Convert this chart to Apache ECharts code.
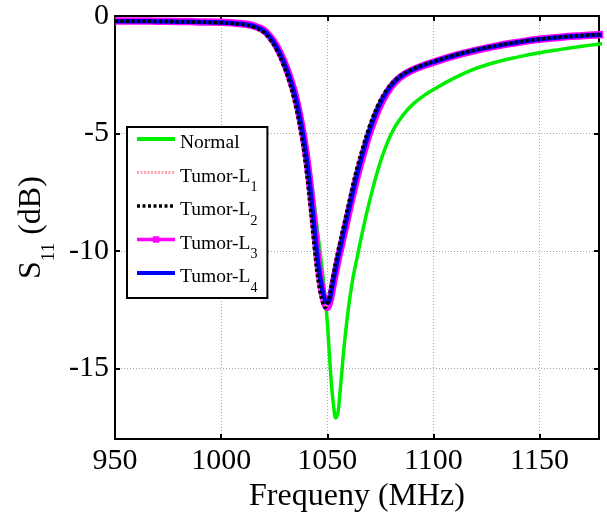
<!DOCTYPE html>
<html>
<head>
<meta charset="utf-8">
<script src="https://cdn.jsdelivr.net/npm/echarts@6/dist/echarts.min.js"></script>
<style>
  html, body { margin: 0; padding: 0; background: #fff; }
  #chart { width: 607px; height: 518px; }
</style>
</head>
<body>
<div id="chart"></div>
<script>
// frequency samples (MHz) shared by every curve
var freq = [950, 960, 970, 980, 990, 1000, 1005, 1010, 1015, 1020,
  1023, 1026, 1029, 1032, 1035, 1038, 1040, 1042, 1044, 1046,
  1048, 1049, 1050, 1051, 1052, 1053, 1054, 1055, 1056, 1057,
  1058, 1060, 1062, 1064, 1067, 1070, 1074, 1078, 1082, 1086,
  1090, 1095, 1100, 1110, 1120, 1130, 1140, 1150, 1160, 1170, 1180];

// S11 in dB
var normal = [-0.25, -0.25, -0.26, -0.27, -0.29, -0.31, -0.33, -0.37, -0.45, -0.65,
  -0.92, -1.3, -1.85, -2.5, -3.35, -4.5, -5.45, -6.7, -8.1, -9.6,
  -11.1, -12.0, -13.0, -14.4, -15.7, -16.6, -17.1, -16.9, -16.0, -15.0,
  -14.0, -12.4, -11.2, -10.3, -9.0, -7.85, -6.5, -5.45, -4.7, -4.18,
  -3.78, -3.42, -3.13, -2.63, -2.23, -1.95, -1.74, -1.56, -1.42, -1.29, -1.17];

var tumorL1 = [-0.22, -0.22, -0.23, -0.24, -0.26, -0.28, -0.30, -0.35, -0.44, -0.66,
  -0.95, -1.36, -1.93, -2.66, -3.62, -4.98, -6.2, -7.75, -9.55, -11.1,
  -12.05, -12.3, -12.25, -12.0, -11.55, -11.05, -10.6, -10.15, -9.75, -9.35,
  -8.95, -8.15, -7.35, -6.6, -5.6, -4.72, -3.82, -3.18, -2.75, -2.47,
  -2.28, -2.09, -1.94, -1.67, -1.44, -1.26, -1.11, -0.98, -0.89, -0.83, -0.78];

var tumorL2 = [-0.22, -0.22, -0.23, -0.24, -0.26, -0.29, -0.31, -0.36, -0.46, -0.7,
  -1.0, -1.42, -2.02, -2.78, -3.8, -5.2, -6.5, -8.15, -9.95, -11.45,
  -12.25, -12.4, -12.25, -11.9, -11.4, -10.9, -10.45, -10.0, -9.6, -9.2,
  -8.8, -8.0, -7.2, -6.45, -5.5, -4.65, -3.76, -3.13, -2.72, -2.45,
  -2.26, -2.08, -1.93, -1.66, -1.43, -1.25, -1.1, -0.98, -0.89, -0.83, -0.78];

var tumorL3 = [-0.21, -0.21, -0.22, -0.23, -0.25, -0.27, -0.29, -0.33, -0.41, -0.6,
  -0.88, -1.27, -1.82, -2.52, -3.42, -4.72, -5.85, -7.3, -9.05, -10.75,
  -11.9, -12.25, -12.4, -12.2, -11.8, -11.3, -10.85, -10.4, -10.0, -9.6,
  -9.2, -8.4, -7.6, -6.85, -5.85, -4.95, -3.98, -3.28, -2.8, -2.5,
  -2.3, -2.12, -1.97, -1.69, -1.46, -1.27, -1.12, -0.99, -0.9, -0.84, -0.79];

var tumorL4 = [-0.22, -0.22, -0.23, -0.24, -0.26, -0.28, -0.30, -0.34, -0.42, -0.62,
  -0.9, -1.3, -1.85, -2.55, -3.45, -4.75, -5.9, -7.35, -9.1, -10.75,
  -11.8, -12.1, -12.2, -12.1, -11.7, -11.2, -10.75, -10.3, -9.9, -9.5,
  -9.1, -8.3, -7.5, -6.75, -5.75, -4.85, -3.9, -3.22, -2.77, -2.48,
  -2.29, -2.11, -1.96, -1.68, -1.45, -1.27, -1.12, -0.99, -0.9, -0.84, -0.79];

var seriesNames = ['Normal', 'Tumor-L1', 'Tumor-L2', 'Tumor-L3', 'Tumor-L4'];
var legendBase = ['Normal', 'Tumor-L', 'Tumor-L', 'Tumor-L', 'Tumor-L'];
var legendSub = [' ', '1', '2', '3', '4'];

var xRange = [950, 1178];
var yRange = [-18, 0];

var serif = "'Liberation Serif', 'DejaVu Serif', serif";

function pairs(vals) {
  return freq.map(function (f, i) { return [f, vals[i]]; });
}

function curve(name, vals, color, width, type, extra) {
  var s = {
    name: name,
    type: 'line',
    data: pairs(vals),
    showSymbol: false,
    symbol: 'circle',
    smooth: 0.4,
    lineStyle: { color: color, width: width, type: type },
    itemStyle: { color: color }
  };
  for (var k in extra) s[k] = extra[k];
  return s;
}

function plain(v) { return String(v); }

var axisLine = { show: true, onZero: false, lineStyle: { color: '#000', width: 2 } };
var axisTick = { show: true, inside: true, length: 5, lineStyle: { color: '#000', width: 2 } };
var gridLine = { show: true, lineStyle: { color: '#a8a8a8', width: 1, type: [1, 2] } };

var chart = echarts.init(document.getElementById('chart'), null, { renderer: 'canvas' });

chart.setOption({
  animation: false,
  backgroundColor: '#fff',
  grid: { left: 115, right: 8, top: 16, bottom: 73 },
  legend: {
    orient: 'vertical',
    left: 127,
    top: 127,
    padding: [1, 10, 3, 8],
    itemGap: 0.5,
    itemWidth: 38,
    itemHeight: 8,
    backgroundColor: '#fff',
    borderColor: '#000',
    borderWidth: 2,
    borderRadius: 0,
    formatter: function (name) {
      var i = seriesNames.indexOf(name);
      return '{m|' + legendBase[i] + '}{s|' + legendSub[i] + '}';
    },
    textStyle: {
      color: '#000',
      fontFamily: serif,
      rich: {
        m: { fontSize: 19.5, fontFamily: serif, color: '#000', lineHeight: 22, verticalAlign: 'top', padding: [5, 0, 0, 0] },
        s: { fontSize: 14, fontFamily: serif, color: '#000', lineHeight: 14, verticalAlign: 'top', padding: [19, 0, 0, 0] }
      }
    },
    data: [
      { name: 'Normal', itemStyle: { opacity: 0 }, lineStyle: { width: 4 } },
      { name: 'Tumor-L1', itemStyle: { opacity: 0 }, lineStyle: { width: 3 } },
      { name: 'Tumor-L2', itemStyle: { opacity: 0 }, lineStyle: { width: 3.5 } },
      { name: 'Tumor-L3', itemStyle: { color: '#ff00ff' }, lineStyle: { width: 3.5 } },
      { name: 'Tumor-L4', itemStyle: { opacity: 0 }, lineStyle: { width: 4 } }
    ]
  },
  xAxis: [{
    type: 'value',
    position: 'bottom',
    min: xRange[0],
    max: xRange[1],
    interval: 50,
    axisLine: axisLine,
    axisTick: axisTick,
    splitLine: gridLine,
    axisLabel: { fontSize: 30, fontFamily: serif, color: '#000', margin: 7, showMaxLabel: false, formatter: plain },
    name: 'Frequeny (MHz)',
    nameLocation: 'middle',
    nameGap: 28,
    nameTextStyle: { fontSize: 32, fontFamily: serif, color: '#000' }
  }, {
    type: 'value',
    position: 'top',
    min: xRange[0],
    max: xRange[1],
    interval: 50,
    axisLine: axisLine,
    axisTick: axisTick,
    splitLine: { show: false },
    axisLabel: { show: false }
  }],
  yAxis: [{
    type: 'value',
    position: 'left',
    min: yRange[0],
    max: yRange[1],
    minInterval: 5,
    maxInterval: 5,
    axisLine: axisLine,
    axisTick: axisTick,
    splitLine: gridLine,
    axisLabel: { fontSize: 30, fontFamily: serif, color: '#000', margin: 6, showMinLabel: false, formatter: plain },
    name: '{m|S}{s|11}{m| (dB)}',
    nameLocation: 'middle',
    nameRotate: 90,
    nameGap: 60,
    nameTextStyle: {
      fontFamily: serif,
      color: '#000',
      rich: {
        m: { fontSize: 32, fontFamily: serif, color: '#000', lineHeight: 34, verticalAlign: 'top' },
        s: { fontSize: 19, fontFamily: serif, color: '#000', lineHeight: 19, verticalAlign: 'top', padding: [24, 0, 0, 0] }
      }
    }
  }, {
    type: 'value',
    position: 'right',
    min: yRange[0],
    max: yRange[1],
    minInterval: 5,
    maxInterval: 5,
    axisLine: axisLine,
    axisTick: axisTick,
    splitLine: { show: false },
    axisLabel: { show: false }
  }],
  series: [
    curve('Normal', normal, '#00ee00', 3.5, 'solid'),
    curve('Tumor-L3', tumorL3, '#ff00ff', 7.5, 'solid', { symbol: 'rect' }),
    curve('Tumor-L1', tumorL1, '#ffa6b4', 3.5, [2, 1.5]),
    curve('Tumor-L4', tumorL4, '#0000ff', 4.5, 'solid'),
    curve('Tumor-L2', tumorL2, '#000000', 3.5, [3, 2.5])
  ]
});
</script>
</body>
</html>
